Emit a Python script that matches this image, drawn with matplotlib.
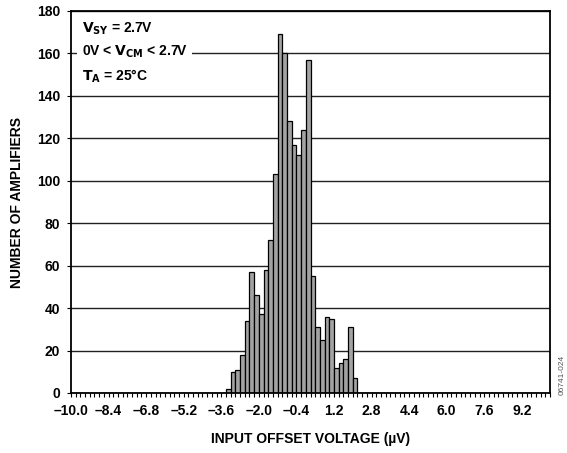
import matplotlib
matplotlib.use("Agg")
import matplotlib.pyplot as plt
from matplotlib.ticker import MultipleLocator, FixedLocator

plt.rcParams['font.family'] = ['Liberation Sans', 'DejaVu Sans']
plt.rcParams['font.weight'] = 'bold'

bin_left = [-3.4, -3.2, -3.0, -2.8, -2.6, -2.4, -2.2, -2.0, -1.8, -1.6,
            -1.4, -1.2, -1.0, -0.8, -0.6, -0.4, -0.2, 0.0, 0.2, 0.4,
            0.6, 0.8, 1.0, 1.2, 1.4, 1.6, 1.8, 2.0]
counts = [2, 10, 11, 18, 34, 57, 46, 37, 58, 72,
          103, 169, 160, 128, 117, 112, 124, 157, 55, 31,
          25, 36, 35, 12, 14, 16, 31, 7]
bin_width = 0.2

xtick_vals = [-10.0, -8.4, -6.8, -5.2, -3.6, -2.0, -0.4, 1.2, 2.8, 4.4, 6.0, 7.6, 9.2]
xtick_labels = ["–10.0", "–8.4", "–6.8", "–5.2", "–3.6", "–2.0", "–0.4",
                "1.2", "2.8", "4.4", "6.0", "7.6", "9.2"]
ytick_vals = [0, 20, 40, 60, 80, 100, 120, 140, 160, 180]

fig = plt.figure(figsize=(5.67, 4.53), dpi=100)
ax = fig.add_axes([71/567, 1-393/453, (550-71)/567, (393-11)/453])

ax.bar(bin_left, counts, width=bin_width, align='edge', color='#a3a3a3',
       edgecolor='black', linewidth=0.9, zorder=3)

ax.set_xlim(-10.0, 10.4)
ax.set_ylim(0, 180)
ax.set_yticks(ytick_vals)
ax.set_yticklabels([str(v) for v in ytick_vals], fontsize=10, fontweight='bold')
ax.xaxis.set_major_locator(FixedLocator(xtick_vals))
ax.set_xticklabels(xtick_labels, fontsize=10, fontweight='bold')
ax.xaxis.set_minor_locator(MultipleLocator(0.2))
ax.tick_params(axis='x', which='both', direction='out', length=3, width=0.8, pad=5)
ax.tick_params(axis='y', which='major', direction='out', length=3, width=0.8, pad=5)

ax.yaxis.grid(True, color='#222222', linewidth=1.0, zorder=1)
ax.set_axisbelow(True)
for s in ax.spines.values():
    s.set_linewidth(1.3)
    s.set_zorder(5)

ax.set_xlabel("INPUT OFFSET VOLTAGE (µV)", fontsize=10, fontweight='bold', labelpad=10)
ax.set_ylabel("NUMBER OF AMPLIFIERS", fontsize=10, fontweight='bold', labelpad=9)

ax.text(0.022, 0.975,
        r"$\mathbf{V_{SY}}$ = 2.7V" + "\n" + r"0V < $\mathbf{V_{CM}}$ < 2.7V" + "\n" + r"$\mathbf{T_A}$ = 25°C",
        transform=ax.transAxes, fontsize=10, fontweight='bold', va='top', ha='left',
        linespacing=1.55, zorder=4,
        bbox=dict(facecolor='white', edgecolor='none', pad=3))

fig.text(562/567, 1-375/453, "06741-024", rotation=90, fontsize=6, color='#555555',
         ha='center', va='center', fontweight='normal')

fig.savefig("out.png", dpi=100)
